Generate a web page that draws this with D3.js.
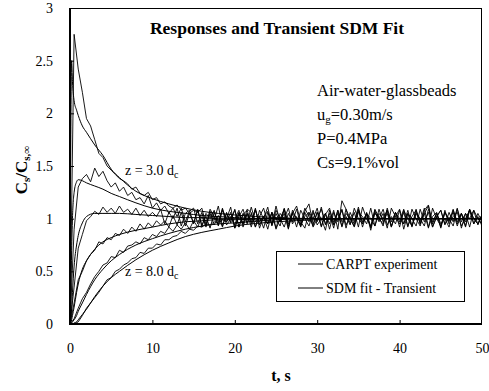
<!DOCTYPE html>
<html><head><meta charset="utf-8">
<script src="https://cdn.jsdelivr.net/npm/d3@7"></script>
<style>body{margin:0;background:#fff}svg{display:block}svg text{font-family:"Liberation Serif","Times New Roman",serif !important;fill:#000}</style>
</head><body>
<script>
// ---- data ----
const xTicks = [0, 10, 20, 30, 40, 50];
const yTicks = [0, 0.5, 1, 1.5, 2, 2.5, 3];
const expStep = 0.5; // s between experimental samples
const exp1 = [0, 2.75, 2.42, 2.2, 1.95, 1.88, 1.75, 1.62, 1.58, 1.5, 1.46, 1.42, 1.38, 1.36, 1.33, 1.28, 1.3, 1.24, 1.22, 1.25, 1.18, 1.2, 1.14, 1.16, 1.12, 1.1, 1.13, 1.08, 1.1, 1.05, 1.08,
 1.06, 1.1, 0.95, 1.07, 0.99, 1.12, 0.93, 1.05, 0.97, 1.09,
 0.92, 1.04, 1.08, 0.95, 1.1, 0.91, 1.02, 1.07, 0.94, 1.12,
 0.97, 1.05, 0.9, 1.08, 1.0, 0.93, 1.07, 1.14, 0.95, 1.06,
 0.92, 1.04, 1.1, 0.94, 1.0, 1.08, 0.91, 1.06, 0.97, 1.11,
 0.95, 1.04, 0.91, 1.09, 1.01, 0.93, 1.1, 0.97, 1.06, 0.92,
 1.08, 1.0, 0.93, 1.09, 0.95, 1.05, 1.12, 0.92, 1.02, 1.08,
 0.94, 1.06, 0.97, 1.1, 0.91, 1.05, 1.0, 1.08, 0.94, 1.03];
const exp2 = [0, 0.9, 1.3, 1.38, 1.42, 1.35, 1.48, 1.4, 1.45, 1.36, 1.3, 1.34, 1.26, 1.3, 1.22, 1.25, 1.18, 1.2, 1.14, 1.22, 1.1, 1.15, 1.08, 1.12, 1.05, 1.1, 1.02,
 1.1, 0.97, 1.07, 1.1, 0.95, 1.06, 0.92, 1.09, 1.02, 0.94,
 1.08, 1.0, 1.11, 0.91, 1.05, 0.95, 1.09, 1.06, 0.92, 1.02,
 1.1, 0.95, 1.06, 0.9, 1.0, 1.09, 0.93, 1.05, 1.12, 0.97,
 0.91, 1.06, 1.0, 1.1, 0.93, 1.05, 0.95, 1.08, 0.9, 1.17,
 1.09, 0.95, 1.06, 0.92, 1.11, 1.0, 0.93, 1.08, 0.97, 1.05,
 0.91, 1.1, 1.02, 0.95, 1.06, 0.92, 1.09, 1.0, 0.93, 1.08,
 1.13, 0.95, 1.05, 0.91, 1.06, 1.0, 0.93, 1.09, 0.97, 1.05,
 0.92, 1.08, 1.0, 0.95];
const exp3 = [0, 0.35, 0.72, 0.85, 0.98, 1.02, 1.07, 1.04, 1.11, 1.06, 1.1, 1.05, 1.12, 1.06, 1.09, 1.04, 1.1, 1.03, 1.08, 1.02, 1.06,
 1.02, 1.09, 0.95, 1.06, 1.0, 1.1, 0.93, 1.05, 1.08, 0.95,
 1.09, 0.92, 1.05, 1.0, 1.08, 0.93, 1.1, 0.97, 1.06, 0.91,
 1.02, 1.09, 0.95, 1.05, 0.92, 1.08, 1.0, 1.11, 0.93, 1.05,
 0.97, 1.09, 0.91, 1.06, 1.0, 0.95, 1.1, 1.02, 0.93, 1.06,
 1.0, 0.89, 1.08, 0.97, 1.05, 0.93, 1.09, 1.0, 0.92, 1.06,
 1.02, 0.95, 1.1, 0.93, 1.05, 1.0, 1.08, 0.92, 1.06, 0.97,
 1.09, 0.93, 1.02, 1.08, 0.95, 1.05, 0.91, 1.1, 1.0, 0.93,
 1.06, 0.97, 1.09, 0.95, 1.05, 0.92, 1.08, 1.0, 0.95, 1.04];
const exp4 = [0, 0.2, 0.42, 0.5, 0.6, 0.66, 0.7, 0.78, 0.76, 0.82, 0.8, 0.86, 0.84, 0.9, 0.86, 0.92, 0.88, 0.95, 0.9, 0.96, 0.92, 0.98, 0.94,
 0.98, 0.92, 1.03, 0.94, 1.06, 0.93, 1.05, 0.96, 1.08, 0.94,
 1.02, 0.91, 1.06, 0.97, 1.09, 0.94, 1.0, 1.08, 0.92, 1.05,
 0.96, 1.11, 0.97, 1.02, 0.91, 1.06, 0.95, 1.08, 1.0, 0.92,
 1.05, 0.97, 1.09, 0.94, 1.02, 1.06, 0.92, 1.0, 1.09, 0.95,
 1.05, 0.91, 1.08, 0.97, 1.02, 0.94, 1.1, 1.0, 0.95, 1.06,
 0.92, 1.05, 1.0, 1.09, 0.94, 1.02, 0.95, 1.08, 0.9, 1.05,
 1.0, 0.93, 1.09, 0.97, 1.06, 0.92, 1.02, 1.08, 0.95, 1.0,
 1.06, 0.93, 1.05, 0.97, 1.09, 0.95, 1.02, 0.93];
const exp5 = [0, 0.05, 0.15, 0.24, 0.3, 0.38, 0.45, 0.5, 0.56, 0.58, 0.64, 0.63, 0.7, 0.68, 0.74, 0.75, 0.78, 0.76, 0.82, 0.8, 0.85, 0.83, 0.88, 0.86, 0.92, 0.88, 0.94, 0.9, 0.96,
 0.9, 0.98, 0.92, 1.02, 0.93, 1.05, 0.94, 1.03, 0.92, 1.06,
 0.96, 1.0, 1.08, 0.92, 1.05, 0.97, 1.09, 0.94, 1.02, 0.95,
 1.06, 0.91, 1.05, 1.0, 1.1, 0.95, 1.02, 0.92, 1.06, 0.97,
 1.08, 0.94, 1.0, 1.05, 0.9, 1.06, 0.97, 1.09, 0.94, 1.02,
 0.95, 1.08, 0.92, 1.05, 1.0, 0.93, 1.09, 0.97, 1.05, 0.92,
 1.06, 1.0, 0.95, 1.08, 0.93, 1.05, 0.97, 1.1, 0.92, 1.02,
 1.06, 0.95, 1.0, 0.92, 1.08, 0.97, 1.05, 0.93, 1.09, 1.0,
 0.95, 1.04];
const exp6 = [0, 0.0, 0.02, 0.08, 0.15, 0.2, 0.25, 0.3, 0.36, 0.42, 0.44, 0.5, 0.52, 0.56, 0.58, 0.62, 0.63, 0.68, 0.67, 0.72, 0.72, 0.76, 0.75, 0.8, 0.8, 0.83, 0.84, 0.88, 0.86, 0.9, 0.89, 0.93, 0.92, 0.95, 0.94, 0.97, 0.96, 0.99, 0.97,
 1.02, 0.94, 1.06, 0.95, 1.05, 0.92, 1.08, 0.97, 1.02, 0.9,
 1.06, 1.0, 0.93, 1.1, 0.95, 1.05, 0.92, 1.08, 1.0, 0.93,
 1.06, 0.97, 1.11, 0.94, 1.02, 0.95, 1.08, 0.92, 1.05, 1.0,
 0.93, 1.09, 0.97, 1.05, 0.89, 1.06, 1.0, 0.95, 1.08, 0.93,
 1.02, 1.09, 0.95, 1.05, 0.92, 1.06, 1.0, 0.93, 1.09, 0.97,
 1.05, 0.92, 1.08, 0.95, 1.02, 1.06, 0.93, 1.0, 1.08, 0.95,
 1.05, 0.97];
const tFit = [0, 0.1, 0.2, 0.3, 0.5, 0.8, 1, 1.5, 2, 3, 4, 5, 6, 8, 10, 12, 14, 16, 18, 20, 25, 30, 35, 40, 50];
const fit1 = [0, 1.8, 2.5, 2.3, 2.12, 2.03, 1.98, 1.88, 1.82, 1.7, 1.6, 1.47, 1.39, 1.26, 1.19, 1.14, 1.1, 1.07, 1.05, 1.035, 1.01, 1.0, 1.0, 1.0, 1.0];
const fit2 = [0, 0.3, 0.7, 1.0, 1.25, 1.35, 1.37, 1.36, 1.34, 1.31, 1.28, 1.24, 1.21, 1.15, 1.1, 1.07, 1.05, 1.03, 1.02, 1.01, 1.0, 1.0, 1.0, 1.0, 1.0];
const fit3 = [0, 0.05, 0.15, 0.3, 0.55, 0.75, 0.84, 0.96, 1.02, 1.05, 1.05, 1.05, 1.05, 1.04, 1.03, 1.02, 1.01, 1.01, 1.0, 1.0, 1.0, 1.0, 1.0, 1.0, 1.0];
const fit4 = [0, 0.01, 0.04, 0.08, 0.16, 0.3, 0.38, 0.52, 0.6, 0.71, 0.78, 0.82, 0.85, 0.89, 0.92, 0.95, 0.97, 0.98, 0.99, 0.99, 1.0, 1.0, 1.0, 1.0, 1.0];
const fit5 = [0, 0, 0.01, 0.02, 0.04, 0.08, 0.12, 0.2, 0.28, 0.42, 0.52, 0.6, 0.66, 0.75, 0.81, 0.86, 0.9, 0.93, 0.95, 0.96, 0.99, 1.0, 1.0, 1.0, 1.0];
const fit6 = [0, 0, 0, 0, 0.01, 0.02, 0.04, 0.09, 0.14, 0.26, 0.36, 0.44, 0.5, 0.61, 0.7, 0.77, 0.83, 0.87, 0.9, 0.93, 0.97, 0.99, 1.0, 1.0, 1.0];
const expSeries = [exp1, exp2, exp3, exp4, exp5, exp6];
const fitSeries = [fit1, fit2, fit3, fit4, fit5, fit6];
const legendLabels = ["CARPT experiment", "SDM fit - Transient"];
const infoLines = ["Air-water-glassbeads", "u|g|=0.30m/s", "P=0.4MPa", "Cs=9.1%vol"];

// ---- layout ----
const W = 489, H = 391;
const L = 70, R = 482, T = 8, B = 324;
const svg = d3.select("body").append("svg").attr("width", W).attr("height", H);
const x = d3.scaleLinear().domain([0, 50]).range([L, R]);
const y = d3.scaleLinear().domain([0, 3]).range([B, T]);

svg.append("clipPath").attr("id", "clip").append("rect")
  .attr("x", L).attr("y", T).attr("width", R - L).attr("height", B - T);

const plot = svg.append("g").attr("clip-path", "url(#clip)");
const line = d3.line().x(d => x(d[0])).y(d => y(d[1]));
const smooth = d3.line().x(d => x(d[0])).y(d => y(d[1])).curve(d3.curveMonotoneX);

expSeries.forEach(s => {
  plot.append("path").datum(s.map((v, i) => [i * expStep, v]))
    .attr("d", line).attr("fill", "none").attr("stroke", "#000").attr("stroke-width", 0.9);
});
fitSeries.forEach(s => {
  plot.append("path").datum(s.map((v, i) => [tFit[i], v]))
    .attr("d", smooth).attr("fill", "none").attr("stroke", "#000").attr("stroke-width", 1);
});

// frame
svg.append("rect").attr("x", L + 0.5).attr("y", T + 0.5).attr("width", R - L - 1).attr("height", B - T - 1)
  .attr("fill", "none").attr("stroke", "#000").attr("stroke-width", 1);
svg.append("line").attr("x1", L).attr("x2", L).attr("y1", T).attr("y2", B + 1).attr("stroke", "#000").attr("stroke-width", 2);
svg.append("line").attr("x1", L).attr("x2", R).attr("y1", B).attr("y2", B).attr("stroke", "#000").attr("stroke-width", 2);

// axes
const xAxis = svg.append("g").attr("transform", `translate(0,${B})`)
  .call(d3.axisBottom(x).tickValues(xTicks).tickSize(-4).tickPadding(19).tickFormat(d3.format("d")));
const yAxis = svg.append("g").attr("transform", `translate(${L},0)`)
  .call(d3.axisLeft(y).tickValues(yTicks).tickSize(-4).tickPadding(17).tickFormat(d => String(d)));
[xAxis, yAxis].forEach(a => {
  a.select(".domain").remove();
  a.selectAll(".tick line").attr("stroke", "#000");
  a.selectAll(".tick text").attr("font-size", 14).attr("fill", "#000");
});
xAxis.selectAll(".tick").filter(d => d === 0 || d === 50).select("line").remove();
yAxis.selectAll(".tick").filter(d => d === 0 || d === 3).select("line").remove();

// title
svg.append("text").attr("x", 277).attr("y", 34).attr("text-anchor", "middle")
  .attr("font-weight", "bold").attr("font-size", 17.5).text("Responses and Transient SDM Fit");

// info text
infoLines.forEach((s, i) => {
  const t = svg.append("text").attr("x", 317).attr("y", 96 + i * 24).attr("font-size", 16.5);
  const parts = s.split("|");
  t.append("tspan").text(parts[0]);
  if (parts.length > 1) {
    t.append("tspan").attr("font-size", 11).attr("dy", 3).text(parts[1]);
    t.append("tspan").attr("dy", -3).text(parts[2]);
  }
});

// z annotations
[["z = 3.0 d", 175], ["z = 8.0 d", 276]].forEach(([s, yy]) => {
  const t = svg.append("text").attr("x", 125).attr("y", yy).attr("font-size", 14);
  t.append("tspan").text(s);
  t.append("tspan").attr("font-size", 10).attr("dy", 3).text("c");
});

// legend
svg.append("rect").attr("x", 276.5).attr("y", 251.5).attr("width", 188).attr("height", 50)
  .attr("fill", "#fff").attr("stroke", "#000").attr("stroke-width", 1);
legendLabels.forEach((s, i) => {
  const yy = 264 + i * 24;
  svg.append("line").attr("x1", 298).attr("x2", 323).attr("y1", yy).attr("y2", yy).attr("stroke", "#000").attr("stroke-width", 1);
  svg.append("text").attr("x", 326).attr("y", yy + 5).attr("font-size", 14).text(s);
});

// axis labels
svg.append("text").attr("x", 281).attr("y", 381).attr("text-anchor", "middle")
  .attr("font-weight", "bold").attr("font-size", 16).text("t, s");
const yl = svg.append("text").attr("transform", "translate(27,170) rotate(-90)")
  .attr("text-anchor", "middle").attr("font-weight", "bold").attr("font-size", 17);
yl.append("tspan").text("C");
yl.append("tspan").attr("font-size", 11).attr("dy", 3).text("s");
yl.append("tspan").attr("dy", -3).text("/C");
yl.append("tspan").attr("font-size", 11).attr("dy", 3).text("s,∞");
</script>
</body></html>
